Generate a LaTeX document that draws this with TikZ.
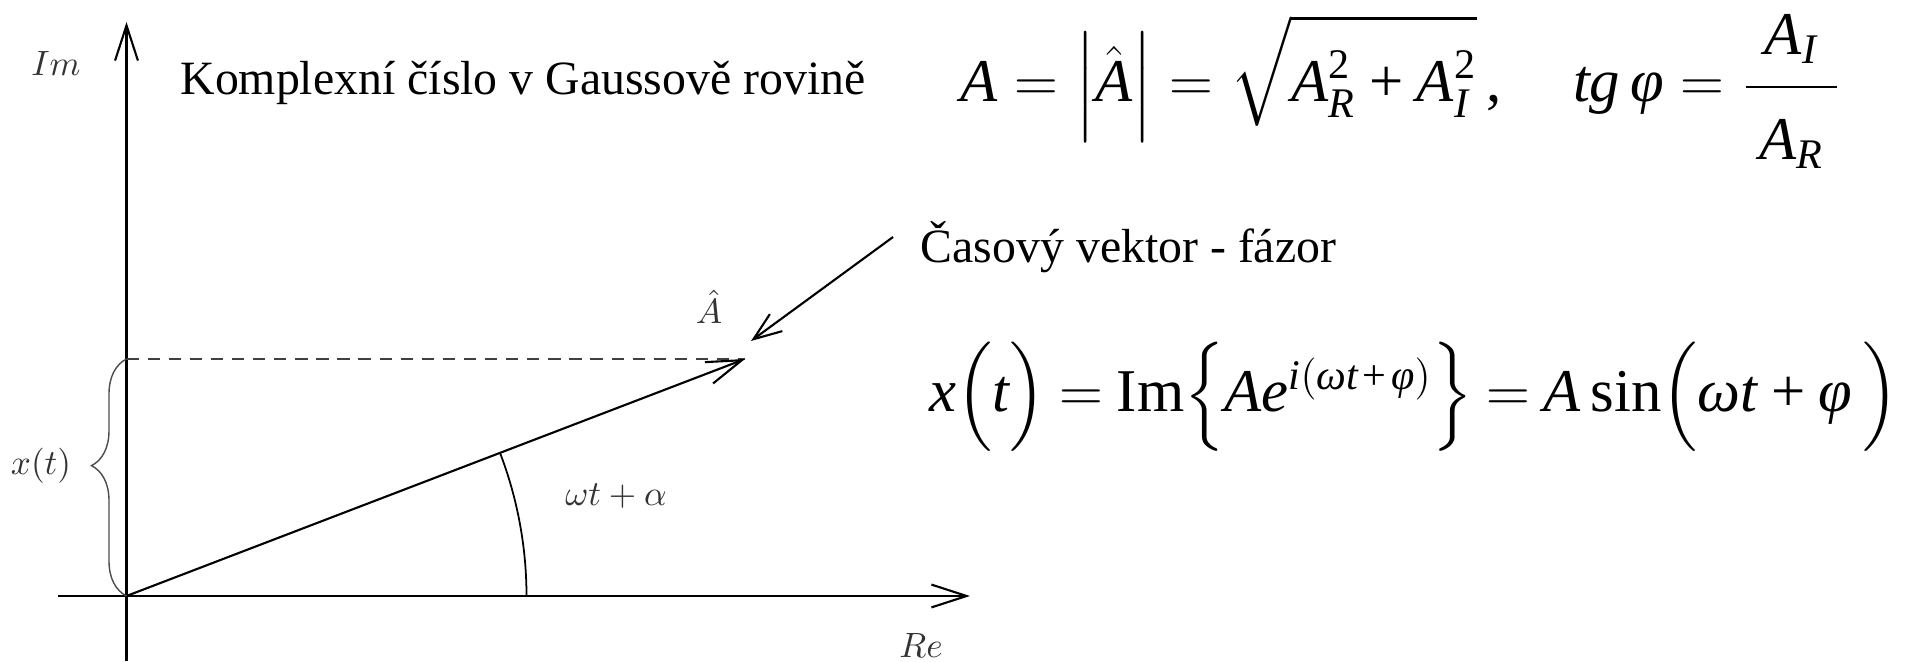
\documentclass[tikz,border=0pt]{standalone}
\usepackage{amsmath}
\usepackage{graphicx}
\usepackage[no-math]{fontspec}
\newfontfamily\tms{Liberation Serif}
\usetikzlibrary{arrows.meta,positioning,decorations.pathreplacing}
\newcommand{\ti}[1]{\text{\tms\itshape #1}}
\newcommand{\tu}[1]{\text{\tms\upshape #1}}
\newcommand{\pls}{\mathbin{\tu{+}}}

\begin{document}
\begin{tikzpicture}[
  axis/.style={line width=0.6pt, -{Straight Barb[length=10pt,width=6.5pt]}},
  pointer/.style={line width=0.6pt, -{Straight Barb[length=8pt,width=6pt]}},
  lbl/.style={text=black!80, inner sep=0pt},
  czech/.style={font=\tms\fontsize{13.6}{16}\selectfont, inner sep=0pt},
  eq/.style={font=\fontsize{17.28}{21}\selectfont, inner sep=0pt, anchor=base west}
]
  \useasboundingbox (0,0) rectangle (19.08,6.61);

  % axes
  \coordinate (O) at (1.265,0.65);
  \coordinate (imlo) at (1.265,0);
  \coordinate (imhi) at (1.265,6.39);
  \coordinate (relo) at (0.58,0.65);
  \coordinate (rehi) at (9.70,0.65);
  \draw[axis] (imlo) -- (imhi);
  \draw[axis] (relo) -- (rehi);
  \node[lbl] (im) at (0.56,5.98) {$Im$};
  \node[lbl] (re) at (9.21,0.16) {$Re$};

  % phasor
  \coordinate (P) at (7.45,3.02);
  \coordinate (xt) at (1.265,3.02);
  \draw[dashed, black!75, line width=0.5pt, dash pattern=on 3.5pt off 2.5pt] (xt) -- (P);
  \draw[axis] (O) -- (P);
  \node[lbl] (ahat) at (7.09,3.54) {$\hat{A}$};

  % angle
  \draw[line width=0.5pt] (O) ++(4,0) arc[start angle=0, end angle=20.97, radius=4];
  \node[lbl] (uhel) at (6.16,1.65) {$\omega t+\alpha$};

  % brace
  \draw[black!70, line width=0.4pt, decorate,
    decoration={brace, amplitude=0.35cm, aspect=0.55}] (O) -- (xt);
  \node[lbl] (xlab) at (0.41,1.95) {$x(t)$};

  % texts
  \node[czech] (title) at (5.23,5.78) {Komplexní číslo v Gaussově rovině};
  \node[czech] (fazor) at (11.285,4.14) {Časový vektor - fázor};
  \draw[pointer] ([xshift=-0.27cm,yshift=0.1cm]fazor.west) -- ([xshift=0.06cm,yshift=0.18cm]P);

  % formulas
  \node[eq] (modul) at (9.60,5.59)
    {$\ti{A}=\Bigl|\hat{\ti{A}}\Bigr|=
      \sqrt{\rule{0pt}{1.15em}\ti{A}_{\ti{R}}^{\tu{2}}\pls\ti{A}_{\ti{I}}^{\tu{2}}}\,\tu{,}\quad\,
      \ti{tg}\,\ti{φ}=\dfrac{\mkern4mu\ti{A}_{\ti{I}}\rule[-0.4em]{0pt}{0pt}\mkern4mu}
        {\rule{0pt}{1.05em}\mkern4mu\ti{A}_{\ti{R}}\mkern4mu}$};
  \node[eq] (casovy) at (9.29,2.49)
    {$\thickmuskip=4mu\ti{x}\Bigl(\ti{t}\Bigr)=\tu{Im}\Bigl\{\ti{A}\ti{e}^{\ti{i}(\ti{ω}\ti{t}\mkern2mu\pls\mkern2mu\ti{φ})}\Bigr\}
      =\ti{A}\,\tu{sin}\Bigl(\ti{ω}\ti{t}\pls\ti{φ}\,\Bigr)$};
\end{tikzpicture}
\end{document}
